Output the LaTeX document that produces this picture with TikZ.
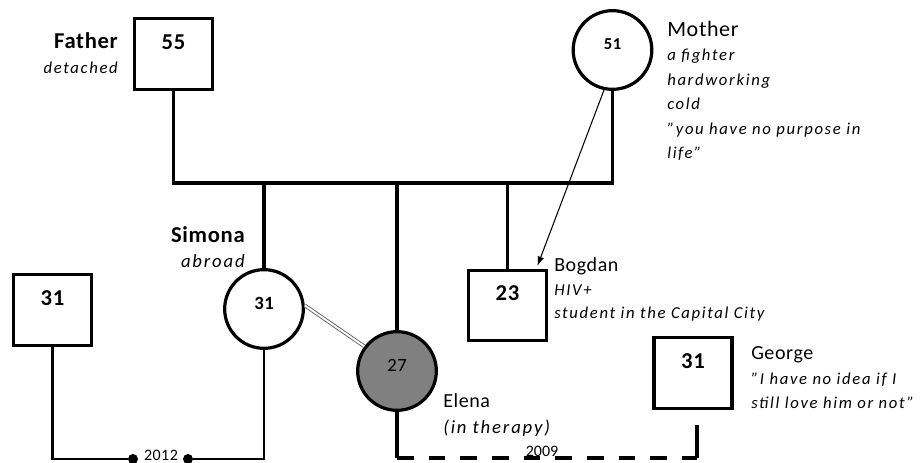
\documentclass[tikz,border=0pt]{standalone}
\usepackage{fontspec}
\setmainfont{Carlito}[LetterSpace=3, ItalicFeatures={LetterSpace=10}]
\usetikzlibrary{arrows.meta}

\begin{document}
\begin{tikzpicture}[
    x=0.75pt, y=-0.75pt,
    male/.style={draw, line width=2.4pt, minimum width=58.5pt, minimum height=53pt,
                 text height=11pt, text depth=18pt, font=\fontsize{17}{20}\selectfont\bfseries},
    female/.style={circle, draw, line width=2.4pt, minimum size=59pt, inner sep=0pt,
                   text height=8pt, text depth=8pt},
    pname/.style={inner sep=0pt, font=\fontsize{15}{18}\selectfont},
    bigpname/.style={inner sep=0pt, font=\fontsize{16.5}{20}\selectfont},
    note/.style={inner sep=0pt, font=\fontsize{12.5}{15}\selectfont\itshape},
    rel/.style={line width=2.6pt},
    exrel/.style={line width=1.8pt},
    broken/.style={line width=2.6pt, dash pattern=on 12.5pt off 11.25pt},
    tie/.style={draw=black!60, line width=0.7pt, double=white, double distance=1.4pt},
    arr/.style={-{Latex[length=7pt,width=5pt]}, line width=0.8pt},
    dot/.style={circle, fill=black, inner sep=0pt, minimum size=7.5pt},
]
\useasboundingbox (0,0) rectangle (923,463);
% ---------------- parents ----------------
\node[male] (father) at (173.5,54) {55};
\node[bigpname, font=\fontsize{17}{20}\selectfont\bfseries, anchor=base east] (fa-name) at (118,49) {Father};
\node[note, anchor=base east] (fa-note) at (118,74) {detached};

\node[female, font=\fontsize{12.5}{14}\selectfont\bfseries] (mother) at (612.5,50) {51};
\node[bigpname, anchor=base west] (mo-name) at (667,37) {Mother};
\node[note, anchor=base west] (mo-n1) at (667,61) {a fighter};
\node[note, anchor=base west] (mo-n2) at (667,85.5) {hardworking};
\node[note, anchor=base west] (mo-n3) at (667,110) {cold};
\node[note, anchor=base west] (mo-n4) at (667,134.5) {"you have no purpose in};
\node[note, anchor=base west] (mo-n5) at (667,159) {life"};

\coordinate (bar) at (0,183);
\draw[rel] (father.south) -- (father.south |- bar) -- (mother.south |- bar) -- (mother.south);

% ---------------- children ----------------
\node[female, font=\fontsize{14}{16}\selectfont\bfseries] (simona) at (264,309) {31};
\node[bigpname, font=\fontsize{17}{20}\selectfont\bfseries, anchor=base east] (si-name) at (245,242) {Simona};
\node[note, font=\fontsize{14}{16}\selectfont\itshape, anchor=base east] (si-note) at (245,267) {abroad};

\node[female, fill=black!50, font=\fontsize{14}{16}\selectfont] (elena) at (397,371) {27};
\node[pname, anchor=base west] (el-name) at (443,407) {Elena};
\node[note, font=\fontsize{14}{16}\selectfont\itshape, anchor=base west] (el-note) at (443,433) {(in therapy)};

\node[male] (bogdan) at (507.5,305.5) {23};
\node[pname, anchor=base west] (bo-name) at (554,271) {Bogdan};
\node[note, anchor=base west] (bo-n1) at (554,295) {HIV+};
\node[note, anchor=base west] (bo-n2) at (554,318) {student in the Capital City};

\draw[rel] (simona.north |- bar) -- (simona.north);
\draw[rel] (elena.north |- bar) -- (elena.north);
\draw[rel] (bogdan.north |- bar) -- (bogdan.north);

\draw[arr] (mother.-102) -- ([xshift=-8pt,yshift=2pt]bogdan.north east);
\draw[tie] (simona.5) -- (elena.143);

% ---------------- partners ----------------
\node[male] (partner) at (52.5,310) {31};
\node[dot] (d1) at (133,459) {};
\node[dot] (d2) at (188,459) {};
\node[inner sep=0pt, font=\fontsize{12}{14}\selectfont, anchor=base] (y2012) at (161,460.5) {2012};
\draw[exrel] (partner.south) |- (d1);
\draw[exrel] (d2) -| (simona.south);

\node[male] (george) at (693,373) {31};
\node[pname, anchor=base west] (ge-name) at (751,359) {George};
\node[note, anchor=base west] (ge-n1) at (751,384) {"I have no idea if I};
\node[note, anchor=base west] (ge-n2) at (751,408) {still love him or not"};

\coordinate (base) at (0,458);
\coordinate (gtop) at (697,425);
\draw[rel] (elena.south) -- (elena.south |- base);
\draw[broken] (elena.south |- base) -- (gtop |- base);
\draw[rel] (gtop |- base) -- (gtop);
\node[inner sep=0pt, font=\fontsize{12}{14}\selectfont\addfontfeatures{LetterSpace=0}, anchor=base] (y2009) at (542,456) {2009};
\end{tikzpicture}
\end{document}
